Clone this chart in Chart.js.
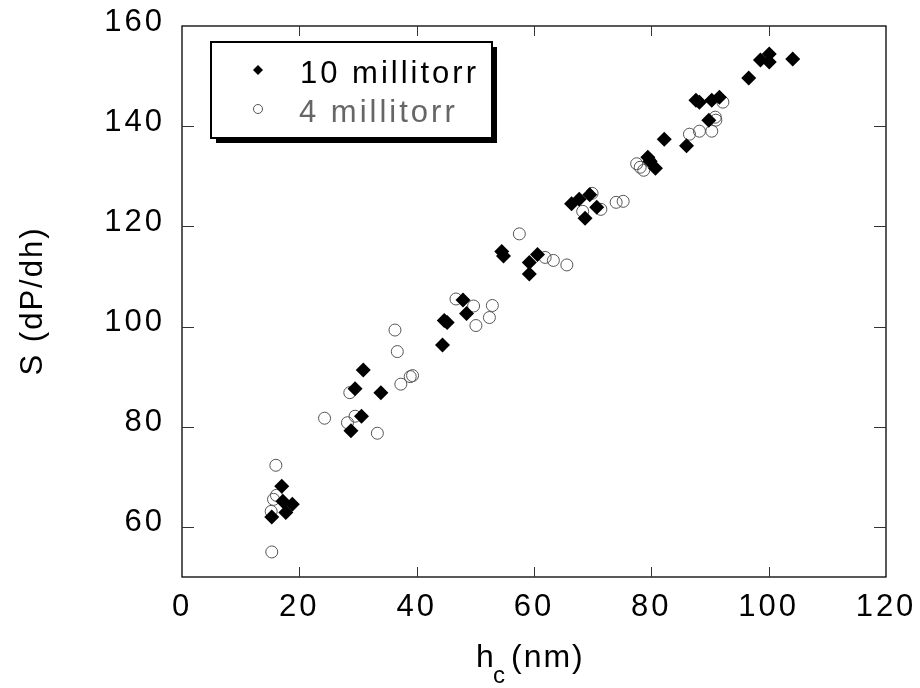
<!DOCTYPE html>
<html lang="en">
<head>
  <meta charset="UTF-8">
  <title>S vs hc</title>
  <script src="https://cdn.jsdelivr.net/npm/chart.js"></script>
  <style>
    html, body { margin: 0; padding: 0; background: #fff; }
    #wrap { width: 920px; height: 688px; }
  </style>
</head>
<body>
  <div id="wrap"><canvas id="chart" width="920" height="688"></canvas></div>
  <script>
    // 10 millitorr (filled diamonds)
    const hc10 = [15.3, 17.0, 17.2, 17.7, 18.8, 28.8, 29.5, 30.6, 30.9, 33.9,
                  44.4, 44.7, 45.2, 47.9, 48.5, 54.5, 54.8, 59.2, 59.2, 60.6,
                  66.4, 67.7, 68.7, 69.5, 70.7, 79.4, 79.8, 80.7, 82.2, 86.0,
                  87.6, 88.2, 89.8, 90.3, 91.6, 96.6, 98.6, 100.1, 100.1, 104.1];
    const s10 = [62.0, 68.1, 65.1, 62.9, 64.5, 79.2, 87.6, 82.1, 91.3, 86.8,
                 96.3, 101.2, 100.8, 105.3, 102.6, 115.0, 114.1, 112.8, 110.5, 114.4,
                 124.5, 125.4, 121.6, 126.3, 123.8, 133.8, 133.0, 131.6, 137.4, 136.1,
                 145.2, 144.8, 141.2, 145.2, 145.8, 149.6, 153.2, 154.4, 152.8, 153.4];
    // 4 millitorr (open circles)
    const hc4 = [15.3, 15.2, 15.6, 16.1, 16.0, 24.3, 28.2, 28.6, 29.5, 33.3,
                 36.3, 36.7, 37.3, 38.9, 39.3, 46.7, 49.7, 50.1, 52.4, 52.9,
                 57.5, 61.9, 63.3, 65.6, 68.3, 69.9, 71.4, 74.0, 75.2,
                 77.5, 78.1, 78.7, 79.7, 86.5, 88.2, 90.3, 90.9, 91.0, 92.2];
    const s4 = [55.0, 63.1, 65.5, 66.3, 72.3, 81.7, 80.8, 86.8, 82.1, 78.7,
                99.3, 95.0, 88.5, 90.0, 90.2, 105.5, 104.1, 100.2, 101.8, 104.2,
                118.5, 113.8, 113.2, 112.3, 123.0, 126.6, 123.4, 124.8, 125.0,
                132.5, 131.8, 131.2, 133.0, 138.4, 139.0, 139.0, 141.8, 141.2, 144.8];
    const xTicks = [0, 20, 40, 60, 80, 100, 120];
    const yTicks = [60, 80, 100, 120, 140, 160];
    const seriesLabels = ['10 millitorr', '4 millitorr'];

    const FONT = "'Liberation Sans', Arial, sans-serif";
    Chart.defaults.font.family = FONT;

    function zip(xs, ys) {
      return xs.map((x, i) => ({ x: x, y: ys[i] }));
    }

    // fixed axis boxes, no extra label overflow padding
    function fixBox(s, w, h) {
      if (w) s.width = w;
      if (h) s.height = h;
      s.paddingTop = 0; s.paddingBottom = 0;
      s.paddingLeft = 0; s.paddingRight = 0;
    }

    // letter spacing for all text, like the original
    const spacing = {
      id: 'spacing',
      beforeUpdate(chart) { chart.ctx.letterSpacing = '3px'; },
      beforeDraw(chart) { chart.ctx.letterSpacing = '3px'; }
    };

    // box frame with inward ticks on all four sides
    const frame = {
      id: 'frame',
      beforeDatasetsDraw(chart) {
        const { ctx, chartArea: a, scales } = chart;
        ctx.save();
        ctx.strokeStyle = '#000';
        ctx.lineWidth = 1.3;
        ctx.strokeRect(a.left, a.top, a.right - a.left, a.bottom - a.top);
        ctx.lineWidth = 1;
        ctx.strokeStyle = '#333';
        ctx.beginPath();
        xTicks.slice(1, -1).forEach(v => {
          const px = Math.round(scales.x.getPixelForValue(v)) + 0.5;
          ctx.moveTo(px, a.bottom); ctx.lineTo(px, a.bottom - 10);
          ctx.moveTo(px, a.top); ctx.lineTo(px, a.top + 10);
        });
        yTicks.slice(0, -1).forEach(v => {
          const py = Math.round(scales.y.getPixelForValue(v)) + 0.5;
          ctx.moveTo(a.left, py); ctx.lineTo(a.left + 12, py);
          ctx.moveTo(a.right, py); ctx.lineTo(a.right - 12, py);
        });
        ctx.stroke();
        ctx.restore();
      },
      afterDraw(chart) {
        const ctx = chart.ctx;
        ctx.save();
        ctx.letterSpacing = '2px';
        ctx.fillStyle = '#000';
        // y title
        ctx.save();
        ctx.translate(33, 301);
        ctx.rotate(-Math.PI / 2);
        ctx.font = '31px ' + FONT;
        ctx.textAlign = 'center';
        ctx.textBaseline = 'middle';
        ctx.fillText('S (dP/dh)', 0, 0);
        ctx.restore();
        // x title with subscript
        ctx.textAlign = 'left';
        ctx.textBaseline = 'alphabetic';
        ctx.font = '32px ' + FONT;
        ctx.fillText('h', 476, 667);
        ctx.font = '24px ' + FONT;
        ctx.fillText('c', 493, 683);
        ctx.font = '32px ' + FONT;
        ctx.fillText('(nm)', 511, 667);

        // legend box with drop shadow
        const lx = 211, ly = 42, lw = 281, lh = 96;
        ctx.fillStyle = '#000';
        ctx.fillRect(lx + 5, ly + 5, lw, lh);
        ctx.fillStyle = '#fff';
        ctx.fillRect(lx, ly, lw, lh);
        ctx.lineWidth = 2;
        ctx.strokeStyle = '#000';
        ctx.strokeRect(lx, ly, lw, lh);
        // markers
        ctx.fillStyle = '#000';
        ctx.beginPath();
        ctx.moveTo(258, 65); ctx.lineTo(263, 70); ctx.lineTo(258, 75); ctx.lineTo(253, 70);
        ctx.closePath();
        ctx.fill();
        ctx.strokeStyle = '#555';
        ctx.lineWidth = 1;
        ctx.beginPath();
        ctx.arc(258, 109, 4.5, 0, Math.PI * 2);
        ctx.stroke();
        // labels
        ctx.font = '31px ' + FONT;
        ctx.letterSpacing = '3px';
        ctx.fillStyle = '#000';
        ctx.fillText(seriesLabels[0], 300, 83);
        ctx.fillStyle = '#666';
        ctx.fillText(seriesLabels[1], 299, 122);
        ctx.restore();
      }
    };

    new Chart(document.getElementById('chart'), {
      type: 'scatter',
      data: {
        datasets: [
          {
            label: seriesLabels[0],
            data: zip(hc10, s10),
            pointStyle: 'rectRot',
            pointRadius: 7.5,
            backgroundColor: '#000',
            borderColor: '#000',
            borderWidth: 0
          },
          {
            label: seriesLabels[1],
            data: zip(hc4, s4),
            pointStyle: 'circle',
            pointRadius: 6,
            backgroundColor: 'rgba(0,0,0,0)',
            borderColor: '#555',
            borderWidth: 1
          }
        ]
      },
      options: {
        responsive: false,
        animation: false,
        devicePixelRatio: 1,
        layout: { padding: { left: 0, right: 34, top: 26, bottom: 0 } },
        plugins: { legend: { display: false }, tooltip: { enabled: false } },
        scales: {
          x: {
            type: 'linear',
            min: 0,
            max: 120,
            afterBuildTicks: s => { s.ticks = xTicks.map(v => ({ value: v })); },
            afterFit: s => fixBox(s, 0, 111),
            grid: { display: false, drawTicks: false },
            border: { display: false },
            ticks: { color: '#000', font: { size: 31 }, padding: 12, maxRotation: 0 }
          },
          y: {
            type: 'linear',
            min: 50,
            max: 160,
            afterBuildTicks: s => { s.ticks = yTicks.map(v => ({ value: v })); },
            afterFit: s => fixBox(s, 182, 0),
            grid: { display: false, drawTicks: false },
            border: { display: false },
            ticks: { color: '#000', font: { size: 31 }, padding: 17, labelOffset: -4 }
          }
        }
      },
      plugins: [spacing, frame]
    });
  </script>
</body>
</html>
